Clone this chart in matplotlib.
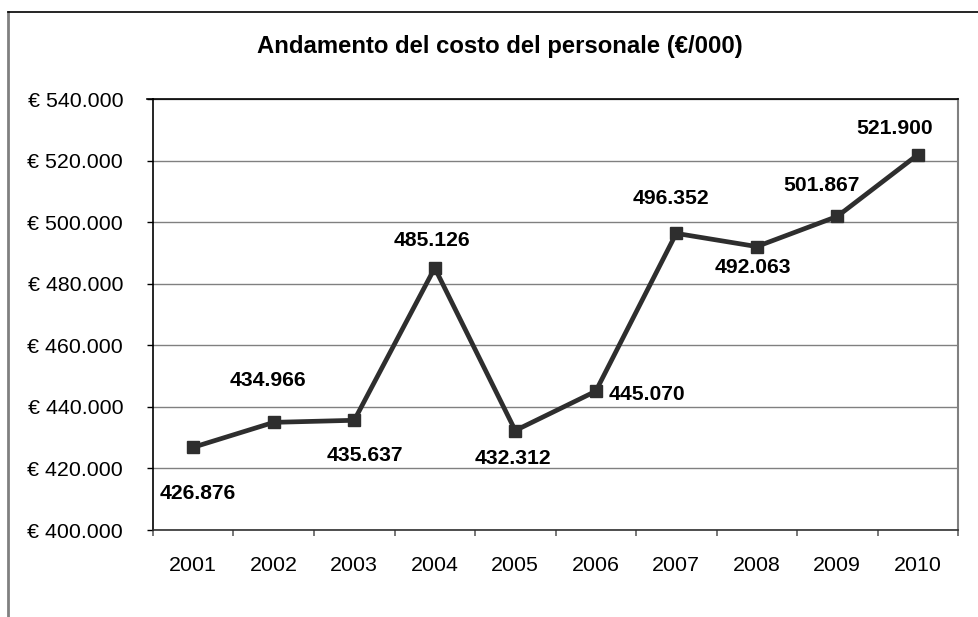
import matplotlib
matplotlib.use("Agg")
import matplotlib.pyplot as plt
from matplotlib.ticker import FixedLocator, FuncFormatter, NullFormatter
from matplotlib.lines import Line2D

plt.rcParams['font.family'] = ['Liberation Sans', 'DejaVu Sans']

# Data
years = ['2001', '2002', '2003', '2004', '2005', '2006', '2007', '2008', '2009', '2010']
costs = [426876, 434966, 435637, 485126, 432312, 445070, 496352, 492063, 501867, 521900]

# Label offsets (in points) relative to each marker
label_offsets = [(3, -33), (-4, 30), (8, -25), (-2, 20), (-2, -20),
                 (37, -2), (-4, 25), (-3, -15), (-11, 22), (-17, 19)]

title = "Andamento del costo del personale (€/000)"


def it_number(v):
    return f"{v:,.0f}".replace(",", ".")


fig = plt.figure(figsize=(9.79, 6.17), dpi=100)
ax = fig.add_axes([153 / 979, 1 - 530 / 617, (958 - 153) / 979, (530 - 99) / 617])

x = list(range(1, len(years) + 1))
line_color = '#2e2e2e'
ax.plot(x, costs, color=line_color, lw=3.4, marker='s', markersize=8,
        markerfacecolor=line_color, markeredgecolor=line_color, zorder=3,
        solid_joinstyle='miter')

for xi, v, (dx, dy) in zip(x, costs, label_offsets):
    ax.annotate(it_number(v), (xi, v), xytext=(dx, dy), textcoords='offset points',
                ha='center', va='center', fontsize=15.2, fontweight='bold', color='black')

ax.set_xlim(0.5, len(years) + 0.5)
ax.set_ylim(400000, 540000)

# Y axis
ax.yaxis.set_major_locator(FixedLocator(range(400000, 540001, 20000)))
ax.yaxis.set_major_formatter(FuncFormatter(lambda v, p: "€ " + it_number(v)))
ax.tick_params(axis='y', direction='out', length=4.5, width=1, color='black',
               labelsize=15.4, pad=17)
ax.grid(axis='y', color='#808080', lw=1.0)
ax.set_axisbelow(True)

# X axis: ticks at category boundaries, labels centered
ax.xaxis.set_major_locator(FixedLocator([i + 0.5 for i in range(0, len(years) + 1)]))
ax.xaxis.set_major_formatter(NullFormatter())
ax.xaxis.set_minor_locator(FixedLocator(x))
ax.set_xticklabels(years, minor=True)
ax.tick_params(axis='x', which='major', direction='out', length=4.5, width=1.2,
               color='#606060')
ax.tick_params(axis='x', which='minor', length=0, labelsize=15.4, pad=19)

for side in ['left', 'bottom', 'top']:
    ax.spines[side].set_color('black')
    ax.spines[side].set_linewidth(1.2)
ax.spines['bottom'].set_color('#303030')
ax.spines['right'].set_color('#808080')
ax.spines['right'].set_linewidth(1.5)

# Top extension of the 540.000 line to the tick
fig.add_artist(Line2D([147 / 979, 153 / 979], [1 - 99 / 617, 1 - 99 / 617],
                      color='black', lw=1.2))

fig.text(500 / 979, 1 - 47 / 617, title, ha='center', va='center',
         fontsize=17.2, fontweight='bold')

# Chart area border
fig.add_artist(Line2D([8 / 979, 8 / 979], [0, 1 - 12 / 617], color='#808080', lw=2))
fig.add_artist(Line2D([8 / 979, 1], [1 - 12 / 617, 1 - 12 / 617], color='black', lw=1.2))

fig.savefig("out.png", dpi=100, facecolor='white')
